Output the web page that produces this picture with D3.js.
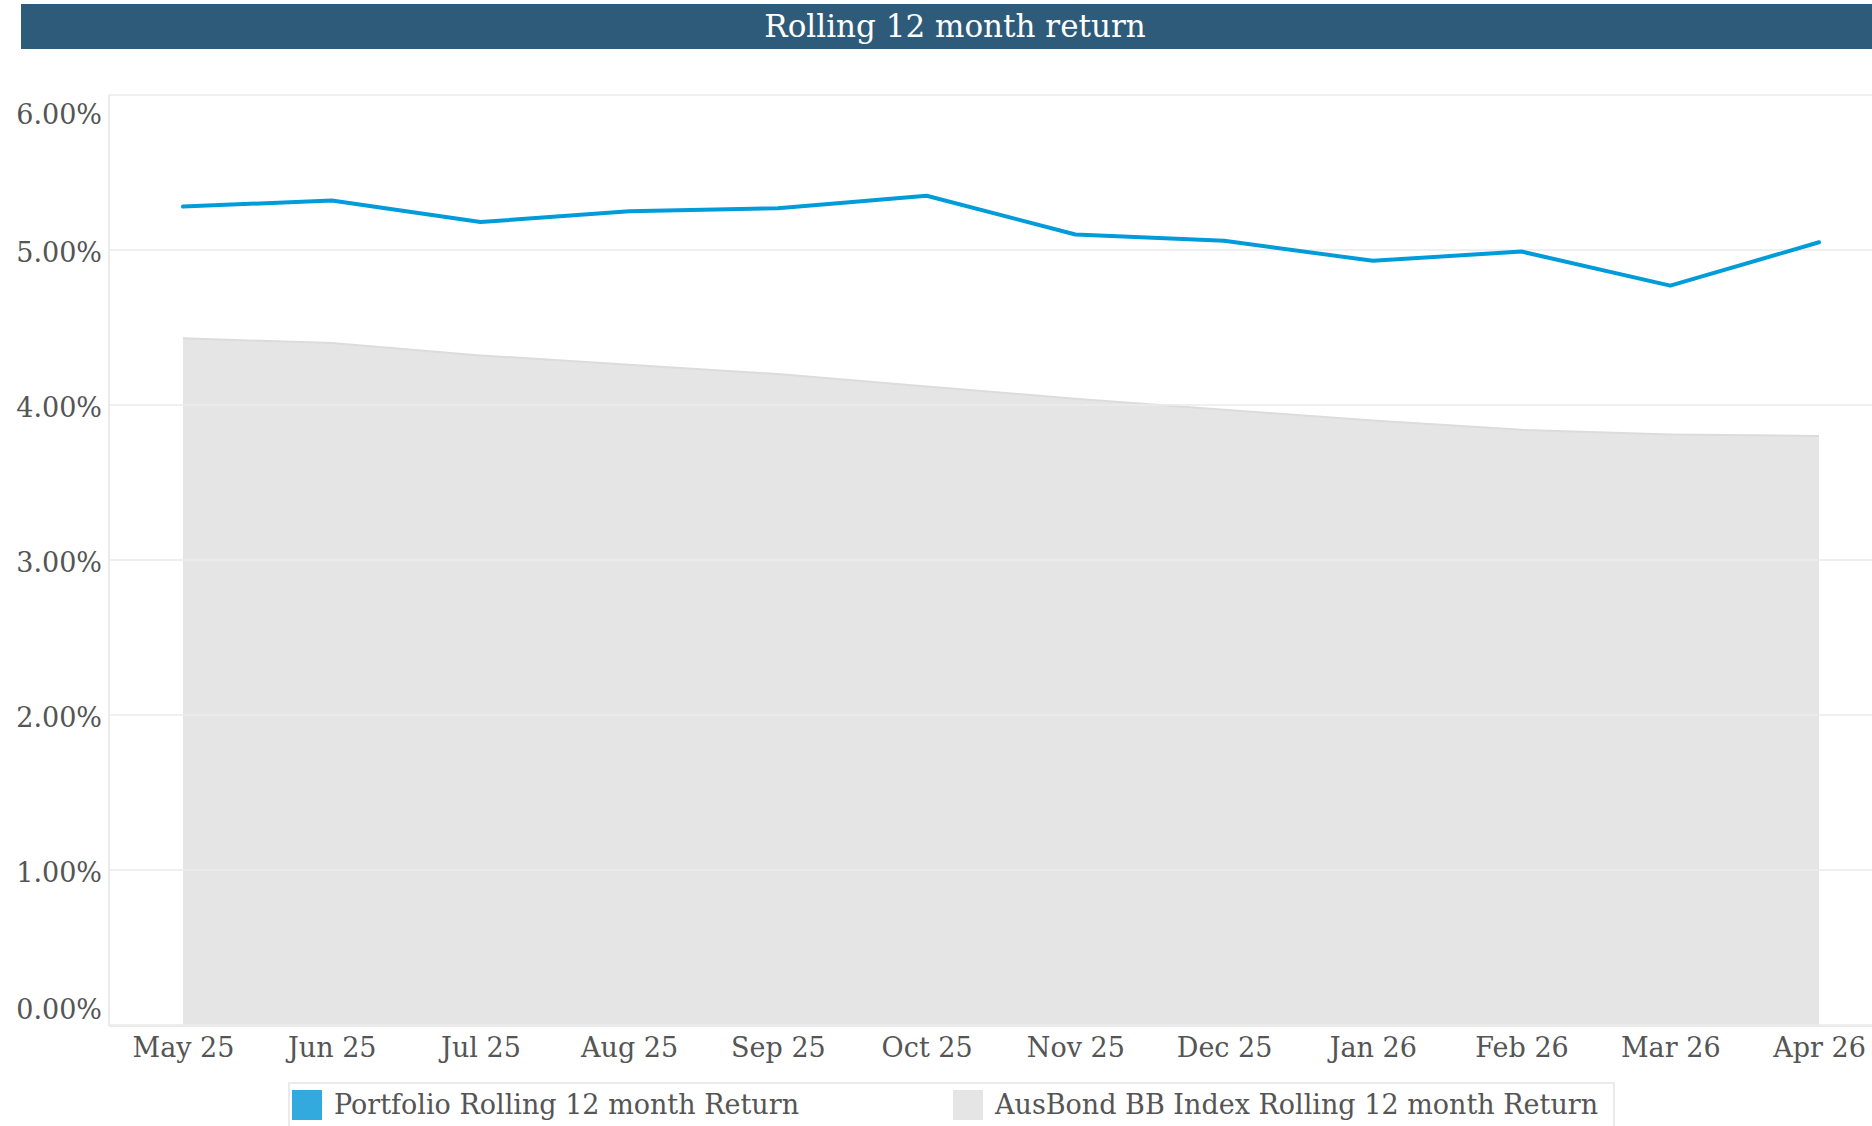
<!DOCTYPE html>
<html>
<head>
<meta charset="utf-8">
<script src="https://cdn.jsdelivr.net/npm/d3@7"></script>
<style>
  body { margin: 0; background: #fff; }
  text { font-family: "DejaVu Serif", "Liberation Serif", serif; }
</style>
</head>
<body>
<div id="chart"></div>
<script>
// chart data
const months = ["May 25", "Jun 25", "Jul 25", "Aug 25", "Sep 25", "Oct 25",
                "Nov 25", "Dec 25", "Jan 26", "Feb 26", "Mar 26", "Apr 26"];
const portfolio = [5.28, 5.32, 5.18, 5.25, 5.27, 5.35, 5.10, 5.06, 4.93, 4.99, 4.77, 5.05];
const benchmark = [4.43, 4.40, 4.32, 4.26, 4.20, 4.12, 4.04, 3.97, 3.90, 3.84, 3.81, 3.80];
const yTicks = [0, 1, 2, 3, 4, 5, 6];
const seriesNames = ["Portfolio Rolling 12 month Return", "AusBond BB Index Rolling 12 month Return"];

const width = 1872, height = 1126;
const plot = { left: 109, right: 1872, top: 95, bottom: 1025 };

const svg = d3.select("#chart").append("svg")
  .attr("width", width)
  .attr("height", height);

// title bar
svg.append("rect")
  .attr("x", 21).attr("y", 4)
  .attr("width", width - 21).attr("height", 45)
  .attr("fill", "#2f5b7a");

svg.append("text")
  .attr("x", 955).attr("y", 37)
  .attr("text-anchor", "middle")
  .attr("fill", "#fff")
  .style("font-size", "31px")
  .text("Rolling 12 month return");

// scales
const x = d3.scalePoint()
  .domain(months)
  .range([plot.left + 74, plot.right - 53]);

const y = d3.scaleLinear()
  .domain([0, 6])
  .range([plot.bottom, plot.top]);

// benchmark area
const area = d3.area()
  .x((d, i) => x(months[i]))
  .y0(y(0))
  .y1(d => y(d));

svg.append("path")
  .datum(benchmark)
  .attr("d", area)
  .attr("fill", "#e5e5e5");

svg.append("path")
  .datum(benchmark)
  .attr("d", d3.line().x((d, i) => x(months[i])).y(d => y(d)))
  .attr("fill", "none")
  .attr("stroke", "#dcdcdc")
  .attr("stroke-width", 2);

// gridlines
svg.append("g")
  .selectAll("line")
  .data(yTicks)
  .join("line")
  .attr("x1", plot.left).attr("x2", plot.right)
  .attr("y1", d => y(d)).attr("y2", d => y(d))
  .attr("stroke", "#ebebeb")
  .attr("stroke-opacity", 0.8)
  .attr("stroke-width", 2);

// plot frame (left and bottom)
svg.append("line")
  .attr("x1", plot.left).attr("x2", plot.left)
  .attr("y1", plot.top).attr("y2", plot.bottom + 1)
  .attr("stroke", "#ebebeb").attr("stroke-width", 2);
svg.append("line")
  .attr("x1", plot.left).attr("x2", plot.right)
  .attr("y1", plot.bottom + 1).attr("y2", plot.bottom + 1)
  .attr("stroke", "#ebebeb").attr("stroke-width", 2);

// portfolio line
svg.append("path")
  .datum(portfolio)
  .attr("d", d3.line().x((d, i) => x(months[i])).y(d => y(d)))
  .attr("fill", "none")
  .attr("stroke", "#009cd9")
  .attr("stroke-width", 4)
  .attr("stroke-linejoin", "round")
  .attr("stroke-linecap", "round");

// y axis labels
const yAxis = svg.append("g")
  .attr("transform", `translate(${plot.left - 7},0)`)
  .call(d3.axisLeft(y).tickValues(yTicks).tickSize(0).tickFormat(d => d3.format(".2f")(d) + "%"));
yAxis.select(".domain").remove();
yAxis.selectAll("text")
  .attr("x", 0)
  .attr("fill", "#555")
  .style("font-family", "DejaVu Serif, serif")
  .style("font-size", "27px")
  .attr("dy", d => d === 6 ? "1.05em" : d === 0 ? "-0.25em" : "0.42em");

// x axis labels
const xAxis = svg.append("g")
  .attr("transform", `translate(0,${plot.bottom})`)
  .call(d3.axisBottom(x).tickSize(0).tickPadding(13));
xAxis.select(".domain").remove();
xAxis.selectAll("text")
  .attr("fill", "#555")
  .style("font-family", "DejaVu Serif, serif")
  .style("font-size", "27px");

// legend
svg.append("rect")
  .attr("x", 289).attr("y", 1083)
  .attr("width", 1325).attr("height", 60)
  .attr("fill", "#fff")
  .attr("stroke", "#ebebeb").attr("stroke-width", 2);

const legendX = [292, 953];
const legendColors = ["#33aadd", "#e5e5e5"];
const legend = svg.append("g")
  .selectAll("g")
  .data(seriesNames)
  .join("g")
  .attr("transform", (d, i) => `translate(${legendX[i]},1090)`);

legend.append("rect")
  .attr("width", 30).attr("height", 30)
  .attr("fill", (d, i) => legendColors[i]);

legend.append("text")
  .attr("x", 42).attr("y", 24)
  .attr("fill", "#555")
  .style("font-size", "27px")
  .text(d => d);
</script>
</body>
</html>
